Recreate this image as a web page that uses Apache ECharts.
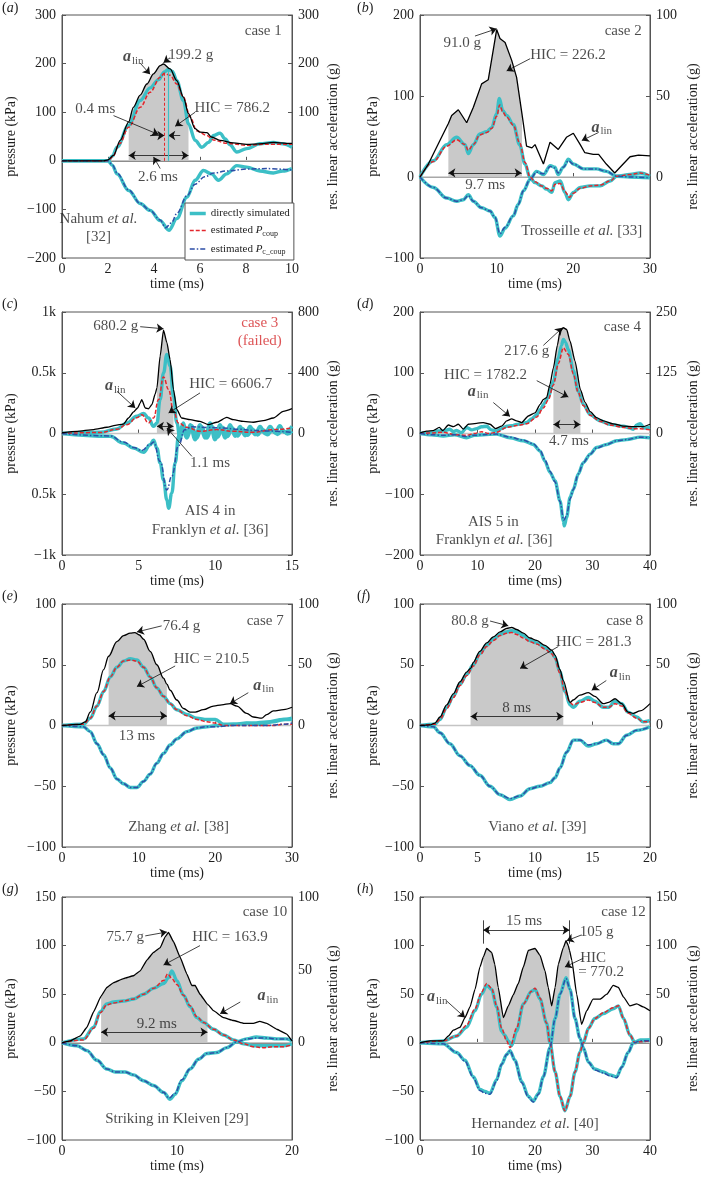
<!DOCTYPE html>
<html><head><meta charset="utf-8">
<script src="https://cdn.jsdelivr.net/npm/echarts@6/dist/echarts.min.js"></script>
<style>html,body{margin:0;padding:0;background:#fff}#c{width:701px;height:1177px}</style>
</head><body><div id="c"></div><script>
const FONT = '"Liberation Serif","Times New Roman",serif';
const CYAN = '#3cbfc6', RED = '#e3262c', BLUE = '#2d4ea6', GRAY = '#c9c9c9', AX = '#555', TXT = '#1e1e1e';
const NAMES = ['directly simulated', 'estimated P_coup', 'estimated P_c_coup'];
const ALIN = '{ai|a}{sb|lin}';

// ---------- (a) case 1 ----------
const A_lin = [[0,0],[1.8,0],[2.0,2],[2.24,11],[2.53,42],[2.9,80],[3.1,110],[3.4,135],[3.69,158],[3.98,179],[4.27,196],[4.41,199.2],[4.7,189],[4.99,165],[5.28,131],[5.5,97],[5.79,66],[6.0,59],[6.3,58],[6.5,49],[6.87,42],[7.45,37],[8.03,34],[8.6,35],[9.19,38],[9.77,36],[10,36]];
const A_hic = [2.9, 5.5];
const A_cs = [[0,0],[2.0,0],[2.2,10],[2.39,28],[2.9,73],[3.4,124],[3.83,150],[4.2,167],[4.45,183],[4.62,188],[4.8,184],[4.99,165],[5.28,124],[5.5,76],[5.79,42],[6.08,28],[6.37,38],[6.6,52],[6.87,57],[7.1,45],[7.3,33],[7.6,18],[8.03,25],[8.6,35],[9.19,38],[9.6,35],[10,28]];
const A_ce = [[0,0],[2.0,0],[2.2,8],[2.5,35],[2.9,69],[3.4,110],[3.83,141],[4.27,172],[4.45,180],[4.7,176],[4.99,158],[5.28,131],[5.57,90],[5.86,62],[6.3,52],[6.58,43],[7.16,36],[8.03,32],[8.9,34],[10,34]];
const A_ks = [[0,0],[2.0,0],[2.2,-10],[2.39,-27],[2.9,-61],[3.4,-88],[3.83,-102],[4.27,-123],[4.65,-143],[4.99,-119],[5.43,-75],[5.79,-40],[6.15,-20],[6.5,-27],[6.8,-40],[7.16,-27],[7.6,-10],[8.03,-13],[8.6,-21],[9.19,-25],[9.6,-21],[10,-16]];
const A_ke = [[0,0],[2.0,0],[2.2,-9],[2.39,-25],[2.9,-60],[3.4,-88],[3.83,-102],[4.27,-122],[4.5,-138],[4.75,-128],[5.0,-108],[5.43,-72],[5.79,-48],[6.2,-33],[6.6,-25],[7.16,-21],[8.03,-17],[8.9,-16],[10,-19]];
const A_text = [[8.75,267,'case 1'],[3.1,213,ALIN],[5.6,217,'199.2 g'],[7.4,108,'HIC = 786.2'],[1.45,107,'0.4 ms'],[4.17,-34,'2.6 ms'],[1.59,-119,'Nahum {i|et al.}'],[1.59,-157,'[32]']];
const A_arrows = [[[3.4,201],[3.83,178]],[[4.7,212],[4.41,202]],[[5.79,100],[4.92,71]],[[2.24,93],[4.2,54]],[[3.83,52],[4.45,52]],[[5.14,52],[4.62,52]],[[4.27,-16],[3.98,8]]];
const A_double = [[[2.9,11],[5.5,11]]];
const A_plain = [];
const A_vred = [[4.45,0],[4.45,180]];
const A_vcyan = [[4.62,0],[4.62,188]];

// ---------- (b) case 2 ----------
const B_lin = [[0,0],[1.09,8],[2.6,22.5],[3.7,33],[4.13,38],[5.0,41.5],[6.09,33.5],[6.96,43],[8.04,57.5],[8.9,60],[10,91],[10.43,85.5],[11.1,83],[11.96,72],[12.6,61.5],[13.3,39],[13.9,19],[14.6,18],[15,20],[16.1,8],[16.96,21.5],[18.04,17],[19.1,24.5],[20,27],[20.9,20],[21.5,15],[22.6,14],[23.3,14],[24.3,8],[25.4,2.5],[26.1,6],[27.4,12.5],[28.5,13.5],[30,13]];
const B_hic = [3.7, 13.3];
const B_cs = [[0,0],[1.74,20],[3.48,40],[4.78,49],[5.87,40],[6.3,29],[6.96,40],[7.8,53],[8.7,56],[9.35,61],[10,78],[10.35,97],[10.8,82],[11.3,76],[12.17,65],[13,40],[13.7,16],[14.35,-1],[15,-7],[15.9,-11],[16.5,-15],[17.2,-19],[17.6,-7],[18.3,-5],[18.9,-19],[19.35,-28],[20,-19],[20.9,-13],[22.2,-11],[23.5,-11],[24.8,-5],[25.65,1],[27.4,3],[28.7,5],[30,1]];
const B_ce = [[0,0],[1.74,19],[3.48,38],[4.78,46],[5.87,40],[6.3,33],[6.96,40],[7.8,52],[8.7,55],[9.35,60],[10,75],[10.4,89],[10.8,80],[11.3,74],[12.17,64],[13,42],[13.7,18],[14.35,0],[15,-6],[15.9,-11],[16.5,-14],[17.2,-17],[17.6,-9],[18.3,-8],[18.9,-18],[19.5,-25],[20,-20],[20.9,-14],[22.2,-11],[23.5,-10],[24.8,-5],[25.65,1],[27.4,3],[28.7,5],[30,2]];
const B_ks = [[0,0],[1.74,-13],[3.48,-26],[4.78,-30],[5.65,-28],[6.3,-22],[6.96,-30],[8.04,-38],[9.13,-42],[9.78,-50],[10.43,-73],[11.1,-63],[12.17,-48],[12.8,-34],[13.5,-17],[14.35,-3],[15.2,7],[16.1,3],[17,14],[17.6,12],[18,3],[18.7,12],[19.35,22],[20,16],[21.3,10],[23,10],[24.3,7],[25.65,1],[27.4,0],[30,-1]];
const B_ke = [[0,0],[1.74,-13],[3.48,-26],[4.78,-30],[5.65,-28],[6.3,-23],[6.96,-30],[8.04,-38],[9.13,-42],[9.78,-50],[10.43,-70],[11.1,-62],[12.17,-48],[12.8,-34],[13.5,-17],[14.35,-3],[15.2,6],[16.1,4],[17,13],[17.6,11],[18,5],[18.7,12],[19.35,20],[20,16],[21.3,10],[23,10],[24.3,7],[25.65,1],[27.4,0],[30,-1]];
const B_text = [[26.5,180,'case 2'],[5.5,165,'91.0 g'],[19.3,151,'HIC = 226.2'],[23.7,61,ALIN],[8.5,-10,'9.7 ms'],[21.1,-67,'Trosseille {i|et al.} [33]']];
const B_arrows = [[[7.17,174],[10,183]],[[14.35,146],[11.3,131]],[[23.3,55],[21.1,45]]];
const B_double = [[[3.7,5],[13.26,5]]];
const B_plain = [];

// ---------- (c) case 3 ----------
const C_lin = [[0,5],[0.98,14],[2.06,26],[2.93,41],[3.47,54],[4.0,62],[4.34,102],[4.67,142],[4.93,168],[5.1,202],[5.2,223],[5.43,168],[5.64,162],[5.86,190],[6.08,260],[6.19,300],[6.4,510],[6.62,680.2],[6.84,598],[7.05,487],[7.27,290],[7.49,158],[7.8,102],[8.36,91],[9.0,80],[9.55,58],[10.1,74],[10.74,106],[11.18,91],[11.83,80],[12.48,74],[13.13,85],[13.78,102],[14.43,146],[15,164]];
const C_hic = [6.19, 7.27];
const C_cs = [[0,0],[2.5,10],[3.58,37],[4.23,87],[4.88,142],[5.32,164],[5.64,128],[5.97,59],[6.19,87],[6.4,279],[6.62,499],[6.84,651],[7.05,554],[7.27,306],[7.49,87],[7.7,-51],[7.92,87],[8.14,-23],[8.36,73],[8.68,-51],[9.0,73],[9.33,-37],[9.66,87],[9.98,-51],[10.31,73],[10.64,-37],[10.96,73],[11.29,-23],[11.61,59],[11.94,-18],[12.26,59],[12.59,-10],[12.92,59],[13.24,-2],[13.57,59],[13.9,4],[14.2,65],[14.5,10],[15,59]];
const C_ce = [[0,0],[2.5,8],[3.58,35],[4.23,73],[4.88,130],[5.2,155],[5.64,87],[5.97,128],[6.3,279],[6.62,466],[6.95,362],[7.27,183],[7.6,87],[8.14,51],[9.0,18],[10.1,32],[11.18,18],[12.48,10],[13.78,32],[15,45]];
const C_ks = [[0,0],[3.15,-23],[4.0,-78],[4.67,-120],[5.32,-155],[5.75,-92],[5.97,-56],[6.19,-120],[6.4,-243],[6.62,-381],[6.84,-546],[6.95,-615],[7.16,-491],[7.38,-243],[7.6,-23],[7.8,59],[8.14,-37],[8.47,65],[8.8,-37],[9.1,59],[9.45,-37],[9.8,55],[10.15,-30],[10.5,50],[10.8,-25],[11.1,45],[11.45,-20],[11.78,40],[12.1,-15],[12.42,35],[12.75,-12],[13.1,32],[13.4,-10],[13.73,30],[14.05,-8],[14.4,28],[14.7,-5],[15,20]];
const C_ke = [[0,0],[3.15,-20],[4.0,-70],[4.67,-115],[5.2,-140],[5.75,-90],[5.97,-70],[6.4,-230],[6.84,-464],[7.16,-350],[7.6,-100],[8.0,30],[8.5,55],[9.5,50],[10.5,45],[11.5,35],[12.5,25],[13.5,20],[15,10]];
const C_text = [[12.9,912,'{r|case 3}'],[12.9,760,'{r|(failed)}'],[3.5,884,'680.2 g'],[3.47,389,ALIN],[11.0,408,'HIC = 6606.7'],[9.66,-243,'1.1 ms'],[9.66,-642,'AIS 4 in'],[9.66,-793,'Franklyn {i|et al.} [36]']];
const C_arrows = [[[5.1,879],[6.62,862]],[[3.58,348],[4.78,210]],[[9.0,334],[6.95,169]],[[8.47,-188],[6.84,45]]];
const C_double = [[[6.19,59],[7.27,59]]];
const C_plain = [];

// ---------- (d) case 4 ----------
const D_lin = [[0,1],[1.16,5],[2.3,6],[3.36,12.5],[3.94,6],[4.93,17.5],[5.8,14],[6.67,19],[7.54,9],[8.4,19],[9.86,21],[11.0,22.5],[12.17,19],[13.16,10],[14.2,15],[15.07,26],[15.94,30],[16.8,26],[17.68,22.5],[18.84,36],[20,42.5],[20.9,60],[21.45,70],[22.03,74],[22.6,101],[23.2,135],[23.9,182],[24.35,210],[24.93,217.6],[25.5,214],[26.1,190],[26.96,149],[27.9,90],[28.7,64],[29.6,45],[30.7,32.5],[31.9,26],[33.6,20],[35.4,15],[37.1,14],[38.8,14],[40,19]];
const D_hic = [23.2, 27.9];
const D_cs = [[0,0],[1,1],[2.3,1],[3,4],[4.06,4],[5.2,7],[5.8,3],[6.38,5],[7.2,1],[8.1,10],[9,6],[9.86,8],[10.7,11],[11.6,12],[12.4,6],[13.3,4],[14.2,8],[15.07,12],[16,13],[16.8,15],[17.6,16],[18.55,18],[19.4,24],[20.3,31],[21.0,40],[21.45,48],[22.3,59],[23.2,86],[24.06,124],[24.6,145],[24.93,155],[25.3,150],[25.8,138],[26.67,103],[27.5,70],[28.4,48],[29.6,31],[31.3,21],[33.0,15],[35.4,12],[36.5,9],[37.1,7],[37.7,14],[38.3,16],[39,9],[40,10]];
const D_ce = [[0,0],[2.3,1],[4.06,2],[6,-2],[8.1,-3],[9.5,0],[10.7,3],[12,0],[13.3,2],[15.07,10],[16.8,13],[18.55,16],[20.3,27],[21.45,42],[22.3,55],[23.2,80],[24.06,115],[24.93,141],[25.8,130],[26.67,98],[27.5,68],[28.4,46],[29.6,30],[31.3,20],[33.0,14],[35.4,10],[37.1,8],[38.3,8],[40,6]];
const D_ks = [[0,0],[2,-2],[4.06,-4],[6,-2],[8.1,-7],[9.5,-3],[11,-2],[13.3,-1],[15.65,-7],[17.97,-12],[19.7,-18],[20.9,-29],[21.7,-45],[22.6,-64],[23.5,-78],[24.35,-111],[24.93,-144],[25.1,-152],[25.5,-138],[26.1,-105],[26.67,-92],[27.5,-67],[28.4,-48],[29.6,-34],[30.7,-23],[32.5,-18],[34.2,-12],[35.9,-10],[38.3,-6],[40,-7]];
const D_ke = [[0,0],[2,-2],[4.06,-3],[6,-2],[8.1,-5],[9.5,-3],[11,-2],[13.3,-1],[15.65,-6],[17.97,-11],[19.7,-17],[20.9,-28],[21.7,-43],[22.6,-62],[23.5,-80],[24.35,-112],[25,-143],[25.5,-135],[26.1,-108],[26.67,-92],[27.5,-67],[28.4,-48],[29.6,-34],[30.7,-24],[32.5,-18],[34.2,-12],[35.9,-10],[38.3,-6],[40,-7]];
const D_text = [[35.2,175,'case 4'],[18.55,135,'217.6 g'],[11.4,97,'HIC = 1782.2'],[10.1,69,ALIN],[25.9,-12,'4.7 ms'],[12.75,-146,'AIS 5 in'],[12.9,-175,'Franklyn {i|et al.} [36]']];
const D_arrows = [[[21.45,145],[24.75,174]],[[20.3,87],[25.8,60]],[[12.75,51],[15.65,28]]];
const D_double = [[[23.2,15],[27.9,15]]];
const D_plain = [];

// ---------- (e) case 7 ----------
const E_lin = [[0,0],[2.39,1],[3.04,3],[3.69,11],[4.56,27],[5.43,46],[6.08,57],[7.16,69],[8.03,74],[8.9,76],[9.5,76.4],[10.1,74.5],[10.64,71],[11.5,61],[12.37,50],[13.24,39],[13.68,34],[14.1,29],[14.98,21],[15.85,14],[16.7,11],[17.37,11],[18.45,13],[19.76,16],[20.84,17],[21.93,18],[22.8,16],[24.1,10],[24.97,7],[26.05,6],[26.7,9],[27.57,12],[28.9,13],[30,15]];
const E_hic = [6.08, 13.68];
const E_cs = [[0,0],[2.8,1],[3.69,6],[4.56,16],[5.43,28],[6.3,40],[7.16,48],[8.03,53],[8.9,55],[9.77,54],[10.64,48],[11.5,40],[12.37,31],[13.24,24],[14.1,18],[14.98,13],[16.3,9],[17.6,6],[18.9,5],[20,5],[21.06,1],[22.4,1],[24.1,2],[25.8,1],[27.57,3],[28.9,5],[30,6]];
const E_ce = [[0,0],[2.8,1],[3.69,6],[4.56,16],[5.43,28],[6.3,40],[7.16,48],[8.03,53],[8.9,54],[9.77,53],[10.64,48],[11.5,40],[12.37,31],[13.24,24],[14.1,18],[14.98,13],[16.3,8],[17.6,5],[18.9,3],[20,2],[21.06,0],[22.4,0],[24.1,0],[25.8,0],[27.57,0],[28.9,1],[30,1]];
const E_ks = [[0,0],[2.8,-1],[3.69,-5],[4.56,-15],[5.43,-24],[6.3,-35],[7.16,-44],[8.03,-48],[8.9,-51],[9.77,-51],[10.64,-46],[11.5,-40],[12.37,-31],[13.24,-23],[14.1,-16],[14.98,-11],[16.3,-5],[17.6,-2],[18.9,-1],[20.2,0],[22.4,1],[24.97,2],[26.7,3],[28.9,5],[30,5]];
const E_ke = [[0,0],[2.8,-1],[3.69,-5],[4.56,-15],[5.43,-24],[6.3,-35],[7.16,-44],[8.03,-48],[8.9,-51],[9.77,-51],[10.64,-46],[11.5,-40],[12.37,-31],[13.24,-23],[14.1,-16],[14.98,-11],[16.3,-5],[17.6,-2],[18.9,-1],[20.2,-1],[22.4,0],[24.97,0],[26.7,0],[28.9,1],[30,2]];
const E_text = [[26.5,86,'case 7'],[15.6,82,'76.4 g'],[19.5,55,'HIC = 210.5'],[26.3,33,ALIN],[9.77,-9,'13 ms'],[15.2,-84,'Zhang {i|et al.} [38]']];
const E_arrows = [[[13.0,82],[9.77,77]],[[14.76,49],[9.77,32]],[[24.3,27],[21.9,18]]];
const E_double = [[[6.08,8],[13.68,8]]];
const E_plain = [];

// ---------- (f) case 8 ----------
const F_lin = [[0,0],[0.87,0.5],[1.3,2],[1.74,7],[2.32,17],[2.9,26],[3.48,36],[4.06,44],[4.4,47],[4.64,52],[5.2,61],[5.8,68],[6.38,73],[6.96,77],[7.54,80],[7.97,80.8],[8.4,79],[8.99,76],[9.57,72],[10.14,70],[10.87,66],[11.45,62],[11.74,58],[12.17,46],[12.46,37],[13.04,19],[13.33,21],[13.9,25],[14.64,27],[15.2,24],[15.94,18],[16.4,19],[16.96,22],[17.54,18],[18.1,11],[18.55,10],[19.13,12],[20,18]];
const F_hic = [4.4, 12.46];
const F_cs = [[0,0],[1.3,1],[1.74,5],[2.32,15],[2.9,24],[3.48,34],[4.06,42],[4.64,50],[5.2,59],[5.8,66],[6.38,71],[6.96,75],[7.54,77],[7.97,78],[8.4,77],[8.99,74],[9.57,70],[10.14,68],[10.87,64],[11.45,60],[11.74,56],[12.17,44],[12.6,28],[13.04,17],[13.33,15],[13.9,20],[14.64,23],[15.2,20],[15.94,15],[16.4,15],[16.96,20],[17.54,18],[18.1,11],[18.84,7],[19.4,3],[20,4]];
const F_ce = [[0,0],[1.3,1],[1.74,5],[2.32,14],[2.9,23],[3.48,33],[4.06,41],[4.64,49],[5.2,58],[5.8,65],[6.38,70],[6.96,74],[7.54,76],[7.97,76.5],[8.4,75],[8.99,72],[9.57,69],[10.14,67],[10.87,63],[11.45,59],[11.74,55],[12.17,43],[12.6,28],[13.04,19],[13.33,17],[13.9,19],[14.64,21],[15.2,19],[15.94,15],[16.4,15],[16.96,18],[17.54,16],[18.1,10],[18.84,6],[19.4,3],[20,3]];
const F_ks = [[0,0],[1.16,-1],[1.74,-6],[2.6,-15],[3.48,-25],[4.35,-33],[5.2,-41],[6.09,-50],[6.96,-57],[7.83,-61],[8.7,-58],[9.57,-52],[10.43,-50],[11.3,-47],[11.74,-43],[12.17,-35],[12.75,-22],[13.33,-12],[13.9,-12],[14.64,-17],[15.36,-15],[16.2,-12],[16.8,-15],[17.25,-15],[17.97,-8],[18.84,-4],[20,-1]];
const F_ke = [[0,0],[1.16,-1],[1.74,-6],[2.6,-15],[3.48,-25],[4.35,-33],[5.2,-41],[6.09,-50],[6.96,-57],[7.83,-60],[8.7,-58],[9.57,-52],[10.43,-50],[11.3,-47],[11.74,-43],[12.17,-35],[12.75,-22],[13.33,-12],[13.9,-12],[14.64,-16],[15.36,-15],[16.2,-12],[16.8,-15],[17.25,-15],[17.97,-8],[18.84,-4],[20,-1]];
const F_text = [[17.8,86,'case 8'],[4.35,86,'80.8 g'],[15.1,69,'HIC = 281.3'],[17.4,43,ALIN],[8.4,14,'8 ms'],[10.2,-84,'Viano {i|et al.} [39]']];
const F_arrows = [[[6.09,86],[7.68,82]],[[12.03,65],[8.7,47]],[[16.2,37],[14.93,29]]];
const F_double = [[[4.4,7.5],[12.46,7.5]]];
const F_plain = [];

// ---------- (g) case 10 ----------
const G_lin = [[0,0],[0.72,1.3],[1.59,4.7],[2.17,10.7],[2.75,21.3],[3.4,32],[3.9,38],[4.49,41.3],[5.35,44],[6.22,46],[6.8,49.3],[7.38,56.7],[7.96,62],[8.54,65.3],[8.97,72.7],[9.26,75.7],[9.7,69.3],[10.27,58.7],[10.85,47.3],[11.29,39.3],[11.58,39.3],[12.0,33.3],[12.65,26.5],[13.17,22],[14.04,17.3],[14.9,15.3],[15.8,13.3],[16.64,13.3],[17.2,14.7],[17.8,13.3],[18.67,9.3],[19.54,6],[20,1.3]];
const G_hic = [3.4, 12.65];
const G_cs = [[0,0],[1.88,4],[2.75,16],[3.33,32],[3.9,40],[4.49,42],[5.35,43],[6.22,45],[7.09,50],[7.96,56],[8.83,61],[9.26,67],[9.55,74],[9.99,64],[10.56,49],[11.14,37],[11.72,26],[12.3,21],[13.17,14],[14.04,8],[14.9,3],[15.8,-1],[16.64,-3],[17.5,-3],[18.4,-3],[19.25,-3],[20,-1]];
const G_ce = [[0,0],[1.88,3],[2.75,15],[3.33,31],[3.9,39],[4.49,41],[5.35,43],[6.22,45],[7.09,50],[7.96,56],[8.83,64],[9.2,71],[9.55,66],[9.99,60],[10.56,49],[11.14,38],[11.72,27],[12.3,21],[13.17,14],[14.04,8],[14.9,3],[15.8,-1],[16.64,-4],[17.5,-5],[18.4,-4],[19.25,-4],[20,-2]];
const G_ks = [[0,0],[1.3,-3],[2.17,-8],[3.04,-18],[3.9,-27],[4.63,-30],[5.5,-30],[6.22,-33],[7.09,-39],[7.96,-44],[8.83,-51],[9.4,-58],[9.84,-53],[10.42,-39],[11.14,-27],[11.87,-17],[12.6,-11],[13.46,-10],[14.33,-5],[15.2,1],[16.06,4],[16.9,6],[17.8,5],[18.67,4],[19.5,4],[20,2]];
const G_ke = [[0,0],[1.3,-3],[2.17,-8],[3.04,-18],[3.9,-27],[4.63,-30],[5.5,-30],[6.22,-33],[7.09,-39],[7.96,-44],[8.83,-51],[9.3,-57],[9.84,-52],[10.42,-38],[11.14,-27],[11.87,-17],[12.6,-11],[13.46,-10],[14.33,-5],[15.2,1],[16.06,4],[16.9,5],[17.8,5],[18.67,4],[19.5,4],[20,3]];
const G_text = [[17.65,134,'case 10'],[5.5,109,'75.7 g'],[14.6,109,'HIC = 163.9'],[17.9,48,ALIN],[8.25,19,'9.2 ms'],[10.0,-78,'Striking in Kleiven [29]']];
const G_arrows = [[[7.24,110],[9.12,114]],[[12.0,100],[8.83,80]],[[15.5,42],[13.75,30]]];
const G_double = [[[3.4,11],[12.65,11]]];
const G_plain = [];

// ---------- (h) case 12 ----------
const H_lin = [[0,0],[1.74,2],[2.9,2],[4.06,2],[4.93,7],[5.8,13],[6.96,16],[7.83,26],[8.7,37],[9.57,55],[10.43,78],[11.0,88],[11.6,97],[12.46,93],[13.0,81],[13.6,57],[14.5,26],[15.36,38],[16.2,49],[17.1,61],[17.97,78],[18.84,95],[20,97],[20.87,90],[21.74,74],[22.3,57],[22.9,38],[23.5,57],[24.06,81],[24.93,98],[25.4,105],[25.8,100],[26.0,95],[26.4,85],[27.25,50],[28.1,19],[29.0,33],[30.1,45],[31.3,45],[32.5,50],[33.6,59],[34.5,57],[35.4,47],[36.5,38],[37.7,40],[38.8,37],[40,33]];
const H_hic = [11.0, 26.0];
const H_cs = [[0,0],[4.06,2],[6.38,7],[8.1,16],[9.57,33],[10.7,50],[11.6,59],[12.46,55],[13.33,37],[14.2,12],[14.7,8],[15.36,2],[15.94,-3],[16.8,12],[17.97,40],[19.4,53],[20,55],[20.87,45],[22.03,20],[22.6,0],[23.5,-30],[24.35,-55],[25.2,-70],[26.1,-55],[26.96,-30],[27.8,-10],[28.4,0],[29.3,15],[30.4,25],[31.9,30],[33.6,35],[34.5,38],[35.4,25],[36.5,8],[37.4,0],[38.3,2],[40,3]];
const H_ce = [[0,0],[4.06,2],[6.38,7],[8.1,18],[9.57,35],[10.7,52],[11.6,61],[12.46,56],[13.33,38],[14.2,15],[15.07,2],[15.65,-5],[16.8,15],[17.97,40],[19.4,53],[20,56],[20.87,46],[22.03,20],[22.6,0],[23.5,-30],[24.35,-55],[25.2,-70],[26.1,-55],[26.96,-30],[27.8,-10],[28.4,0],[29.3,15],[30.4,25],[31.9,31],[33.6,36],[34.5,38],[35.4,25],[36.5,8],[37.4,0],[38.3,1],[40,2]];
const H_ks = [[0,0],[4.06,-1],[6.38,-10],[7.83,-18],[9.28,-35],[10.43,-48],[11.3,-50],[12.17,-52],[13.33,-38],[14.2,-22],[15.07,-12],[15.65,-8],[16.5,-18],[17.7,-40],[18.84,-55],[19.7,-60],[20.6,-52],[21.45,-35],[22.6,-5],[23.5,25],[24.35,50],[25.4,67],[26.1,55],[26.96,25],[27.8,5],[28.4,-5],[29.3,-20],[30.4,-27],[31.9,-30],[33,-33],[34.2,-35],[35.1,-25],[36.2,-10],[37.1,0],[38.3,3],[40,3]];
const H_ke = [[0,0],[4.06,-1],[6.38,-10],[7.83,-19],[9.28,-36],[10.43,-49],[11.3,-52],[12.17,-53],[13.33,-39],[14.2,-22],[15.07,-12],[15.65,-8],[16.5,-18],[17.7,-41],[18.84,-56],[19.7,-61],[20.6,-53],[21.45,-35],[22.6,-5],[23.5,25],[24.35,50],[25.4,66],[26.1,55],[26.96,25],[27.8,5],[28.4,-5],[29.3,-20],[30.4,-28],[31.9,-31],[33,-34],[34.2,-36],[35.1,-25],[36.2,-10],[37.1,0],[38.3,2],[40,2]];
const H_text = [[35.4,135,'case 12'],[18.1,125,'15 ms'],[30.7,114,'105 g'],[30.1,87,'HIC'],[31.5,73,'= 770.2'],[3.0,47,ALIN],[20,-84,'Hernandez {i|et al.} [40]']];
const H_arrows = [[[28.1,111],[25.5,105]],[[28.4,87],[25.2,78]],[[4.64,43],[7.83,26]]];
const H_double = [[[11,116],[26,116]]];
const H_plain = [[[11,102],[11,126]],[[26,102],[26,126]]];

// ---------- axes ----------
const posOnly = v => v >= -1e-6;
const panels = [
  {k:'a', pos:[62,15], col:0, x:[0,10,2], yl:[-200,300,100], yr:[-200,300,100], rs:v=>v>0, lin:A_lin, hic:A_hic, cs:A_cs, ce:A_ce, ks:A_ks, ke:A_ke, tx:A_text, ar:A_arrows, db:A_double, pl:A_plain, sm:0.35, lsm:0.3},
  {k:'b', pos:[420,15], col:1, x:[0,30,10], yl:[-100,200,100], yr:[-50,100,50], rs:posOnly, lin:B_lin, hic:B_hic, cs:B_cs, ce:B_ce, ks:B_ks, ke:B_ke, tx:B_text, ar:B_arrows, db:B_double, pl:B_plain, sm:0.35, lsm:0},
  {k:'c', pos:[62,312], col:0, x:[0,15,5], yl:[-1000,1000,500], yr:[-800,800,400], rs:posOnly, lin:C_lin, hic:C_hic, cs:C_cs, ce:C_ce, ks:C_ks, ke:C_ke, tx:C_text, ar:C_arrows, db:C_double, pl:C_plain, sm:0.45, lsm:0.2,
   lf:v=>({'1000':'1k','500':'0.5k','0':'0','-500':'0.5k','-1000':'\u22121k'})[String(v)]},
  {k:'d', pos:[420,312], col:1, x:[0,40,10], yl:[-200,200,100], yr:[-250,250,125], rs:posOnly, lin:D_lin, hic:D_hic, cs:D_cs, ce:D_ce, ks:D_ks, ke:D_ke, tx:D_text, ar:D_arrows, db:D_double, pl:D_plain, sm:0.3, lsm:0.2},
  {k:'e', pos:[62,604], col:0, x:[0,30,10], yl:[-100,100,50], yr:[-100,100,50], rs:posOnly, lin:E_lin, hic:E_hic, cs:E_cs, ce:E_ce, ks:E_ks, ke:E_ke, tx:E_text, ar:E_arrows, db:E_double, pl:E_plain, sm:0.35, lsm:0.35},
  {k:'f', pos:[420,604], col:1, x:[0,20,5], yl:[-100,100,50], yr:[-100,100,50], rs:posOnly, lin:F_lin, hic:F_hic, cs:F_cs, ce:F_ce, ks:F_ks, ke:F_ke, tx:F_text, ar:F_arrows, db:F_double, pl:F_plain, sm:0.35, lsm:0.3},
  {k:'g', pos:[62,897], col:0, x:[0,20,10], yl:[-100,150,50], yr:[-200/3,100,50/3], rs:v=>v>-0.01 && Math.abs(v-Math.round(v/50)*50)<0.01, rt:false, lin:G_lin, hic:G_hic, cs:G_cs, ce:G_ce, ks:G_ks, ke:G_ke, tx:G_text, ar:G_arrows, db:G_double, pl:G_plain, sm:0.35, lsm:0.1},
  {k:'h', pos:[420,897], col:1, x:[0,40,10], yl:[-100,150,50], yr:[-100,150,50], rs:posOnly, lin:H_lin, hic:H_hic, cs:H_cs, ce:H_ce, ks:H_ks, ke:H_ke, tx:H_text, ar:H_arrows, db:H_double, pl:H_plain, sm:0.3, lsm:0.15}
];

const RICH = {
  i:{fontFamily:FONT,fontSize:15,fontStyle:'italic',color:TXT},
  ai:{fontFamily:FONT,fontSize:16,fontStyle:'italic',fontWeight:'bold',color:TXT},
  sb:{fontFamily:FONT,fontSize:11,color:TXT,padding:[8,0,0,1]},
  r:{fontFamily:FONT,fontSize:15,color:'#d4292c'}
};
const minus = v => (v < 0 ? '\u2212' + (-v) : String(v));
const tickLbl = {fontFamily:FONT, fontSize:14, color:TXT};

const grids=[], xAxes=[], yAxes=[], series=[], titles=[];
panels.forEach((P, i) => {
  const [L, T] = P.pos;
  grids.push({left:L, top:T, width:230, height:243, show:true, borderColor:AX, borderWidth:1, backgroundColor:'transparent'});
  xAxes.push({type:'value', gridIndex:i, min:P.x[0], max:P.x[1], interval:P.x[2],
    axisLine:{show:true, lineStyle:{color:AX}}, axisTick:{show:true, inside:true, length:4, lineStyle:{color:AX}},
    axisLabel:Object.assign({margin:4}, tickLbl), splitLine:{show:false},
    name:'time (ms)', nameLocation:'middle', nameGap:18, nameTextStyle:tickLbl});
  yAxes.push({type:'value', gridIndex:i, position:'left', min:P.yl[0], max:P.yl[1], interval:P.yl[2],
    axisLine:{show:true, lineStyle:{color:AX}}, axisTick:{show:true, inside:true, length:4, lineStyle:{color:AX}},
    axisLabel:Object.assign({margin:6, formatter:P.lf || minus}, tickLbl), splitLine:{show:false},
    name:'pressure (kPa)', nameLocation:'middle', nameRotate:90, nameGap:P.col ? 40 : 44, nameTextStyle:tickLbl});
  yAxes.push({type:'value', gridIndex:i, position:'right', min:P.yr[0], max:P.yr[1], interval:P.yr[2],
    axisLine:{show:true, lineStyle:{color:AX}}, axisTick:{show:P.rt !== false, inside:true, length:4, lineStyle:{color:AX}},
    axisLabel:Object.assign({margin:6, formatter:v => (P.rs(v) ? String(Math.round(v)) : '')}, tickLbl), splitLine:{show:false},
    name:'res. linear acceleration (g)', nameLocation:'middle', nameRotate:90, nameGap:P.col ? 36 : 34, nameTextStyle:tickLbl});
  const xi = i, yl = 2*i, yr = 2*i+1;
  const base = {type:'line', xAxisIndex:xi, symbol:'none', showSymbol:false, silent:true, smoothMonotone:'x'};
  // HIC shaded window under a_lin
  const win = P.lin.filter(d => d[0] >= P.hic[0] - 1e-9 && d[0] <= P.hic[1] + 1e-9);
  series.push(Object.assign({}, base, {yAxisIndex:yr, data:win, smooth:P.lsm, lineStyle:{width:0, opacity:0}, areaStyle:{color:GRAY, opacity:1}, z:1}));
  // zero line
  series.push(Object.assign({}, base, {yAxisIndex:yl, data:[[P.x[0],0],[P.x[1],0]], lineStyle:{color:'#c4c4c4', width:1.5}, z:2}));
  // directly simulated
  series.push(Object.assign({}, base, {name:NAMES[0], yAxisIndex:yl, data:P.cs, smooth:P.sm, lineStyle:{color:CYAN, width:3.4}, itemStyle:{color:CYAN}, z:3}));
  series.push(Object.assign({}, base, {name:NAMES[0], yAxisIndex:yl, data:P.ks, smooth:P.sm, lineStyle:{color:CYAN, width:3.4}, itemStyle:{color:CYAN}, z:3}));
  // estimated
  series.push(Object.assign({}, base, {name:NAMES[1], yAxisIndex:yl, data:P.ce, smooth:P.sm, lineStyle:{color:RED, width:1.5, type:[4,2]}, itemStyle:{color:RED}, z:4}));
  series.push(Object.assign({}, base, {name:NAMES[2], yAxisIndex:yl, data:P.ke, smooth:P.sm, lineStyle:{color:BLUE, width:1.5, type:[5,2,1.5,2]}, itemStyle:{color:BLUE}, z:4}));
  // a_lin
  series.push(Object.assign({}, base, {yAxisIndex:yr, data:P.lin, smooth:P.lsm, lineStyle:{color:'#000', width:1.3}, z:5}));
  // annotations
  const ml = [];
  P.ar.forEach(a => ml.push([{coord:a[0], symbol:'none'}, {coord:a[1], symbol:'arrow'}]));
  P.db.forEach(a => ml.push([{coord:a[0], symbol:'arrow'}, {coord:a[1], symbol:'arrow'}]));
  P.pl.forEach(a => ml.push([{coord:a[0], symbol:'none'}, {coord:a[1], symbol:'none'}]));
  if (P.k === 'a') {
    ml.push([{coord:A_vred[0], symbol:'none', lineStyle:{color:RED, width:1, type:[3,2]}}, {coord:A_vred[1], symbol:'none'}]);
    ml.push([{coord:A_vcyan[0], symbol:'none', lineStyle:{color:CYAN, width:1.2, type:'solid'}}, {coord:A_vcyan[1], symbol:'none'}]);
  }
  series.push({type:'scatter', xAxisIndex:xi, yAxisIndex:yl, symbolSize:1, silent:true, z:10,
    itemStyle:{color:'rgba(0,0,0,0)'},
    data:P.tx.map(t => ({value:[t[0], t[1]], label:{formatter:t[2]}})),
    label:{show:true, position:'inside', fontFamily:FONT, fontSize:15, color:TXT, rich:RICH},
    markLine:{silent:true, animation:false, symbolSize:7, label:{show:false}, emphasis:{disabled:true},
      lineStyle:{color:'#111', width:0.8, type:'solid'}, data:ml}});
  titles.push({text:'({i|' + P.k + '})', left:P.col ? 357 : 2, top:T - (i < 2 ? 14 : 15), padding:0,
    textStyle:{fontFamily:FONT, fontSize:14, fontWeight:'normal', color:TXT, rich:{i:{fontFamily:FONT, fontSize:14, fontStyle:'italic', color:TXT}}}});
});

const chart = echarts.init(document.getElementById('c'), null, {renderer:'canvas'});
chart.setOption({
  animation:false,
  backgroundColor:'#fff',
  title:titles,
  grid:grids, xAxis:xAxes, yAxis:yAxes, series:series,
  legend:{
    data:[{name:NAMES[0], lineStyle:{width:3.5}}, {name:NAMES[1], lineStyle:{width:1.6}}, {name:NAMES[2], lineStyle:{width:1.6}}],
    orient:'vertical', left:185, top:203, itemWidth:16, itemHeight:8, itemGap:6,
    itemStyle:{opacity:0},
    padding:[5,4,4,3], borderColor:AX, borderWidth:1, backgroundColor:'#fff', selectedMode:false,
    textStyle:{fontFamily:FONT, fontSize:11, color:TXT,
      rich:{li:{fontFamily:FONT, fontSize:11, fontStyle:'italic', color:TXT}, ls:{fontFamily:FONT, fontSize:8, color:TXT, padding:[6,0,0,0]}}},
    formatter:n => n === NAMES[1] ? 'estimated {li|P}{ls|coup}' : (n === NAMES[2] ? 'estimated {li|P}{ls|c_coup}' : n)}
});
</script></body></html>
